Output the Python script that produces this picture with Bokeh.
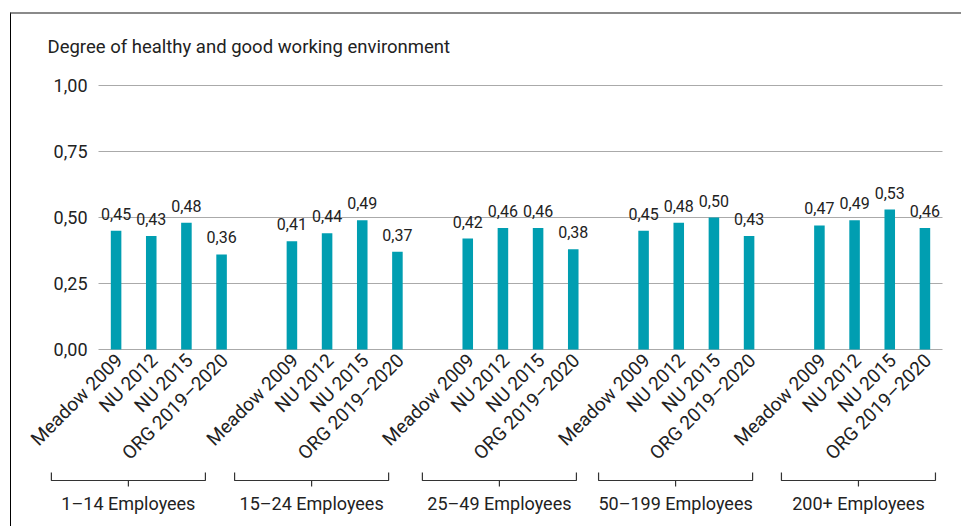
from math import pi
from bokeh.plotting import figure
from bokeh.models import Range1d
from bokeh.core.properties import value
from bokeh.embed import file_html
from bokeh.resources import INLINE

# ---- data ----
groups = ["1–14 Employees", "15–24 Employees", "25–49 Employees",
          "50–199 Employees", "200+ Employees"]
surveys = ["Meadow 2009", "NU 2012", "NU 2015", "ORG 2019–2020"]
meadow_2009 = [0.45, 0.41, 0.42, 0.45, 0.47]
nu_2012 = [0.43, 0.44, 0.46, 0.48, 0.49]
nu_2015 = [0.48, 0.49, 0.46, 0.50, 0.53]
org_2019_2020 = [0.36, 0.37, 0.38, 0.43, 0.46]
y_ticks = [0, 0.25, 0.5, 0.75, 1.0]
y_tick_labels = ["0,00", "0,25", "0,50", "0,75", "1,00"]
title_text = "Degree of healthy and good working environment"

# ---- layout / style ----
FONT = "Roboto"
TXT = "#222222"
BAR = "#009EB1"
GRID = "#AAAAAA"
W, H = 951, 514
AREA_LEFT, AREA_RIGHT, AREA_TOP = 87, 20, 71   # pixel margins of the value area
PX_PER_UNIT = 264.0                            # pixels for y from 0 to 1
bracket_shift = [-1.15, -0.94, -0.60, -0.59, -0.39]
bracket_half = 2.19

series = [meadow_2009, nu_2012, nu_2015, org_2019_2020]
slots = len(surveys) + 1
xs, vals, names = [], [], []
for g in range(len(groups)):
    for i, s in enumerate(series):
        xs.append(g * slots + i)
        vals.append(s[g])
        names.append(surveys[i])
val_text = [f"{v:.2f}".replace(".", ",") for v in vals]
n_slots = len(groups) * slots - 1

px = 1 / PX_PER_UNIT
slot_px = (W - AREA_LEFT - AREA_RIGHT) / n_slots
x_lo, x_hi = -0.5, n_slots - 0.5
x_start = x_lo - AREA_LEFT / slot_px
x_end = x_hi + AREA_RIGHT / slot_px
y_top = 1.0 + AREA_TOP * px
y_bottom = 1.0 - (H - AREA_TOP) * px

p = figure(width=W, height=H, x_range=Range1d(x_start, x_end),
           y_range=Range1d(y_bottom, y_top), x_axis_location=None,
           y_axis_location=None, output_backend="svg", toolbar_location=None,
           min_border=0, margin=(12, 0, 0, 10))
p.styles = {"border-top": "2px solid #8a8a8a", "border-left": "1px solid #000000"}
p.outline_line_color = None
p.background_fill_color = "white"
p.xgrid.visible = False
p.ygrid.visible = False

# horizontal grid lines over the value area
p.segment(x0=[x_lo] * len(y_ticks), x1=[x_hi] * len(y_ticks), y0=y_ticks, y1=y_ticks,
          line_color=GRID, line_width=1)

# title
p.text(x=[x_start], y=[1.0 + (AREA_TOP - 32) * px], text=[title_text],
       x_offset=36, text_align="left", text_baseline="middle",
       text_font=value(FONT), text_font_size="18.5px", text_color=TXT)

# y tick labels
p.text(x=[x_lo] * len(y_ticks), y=y_ticks, text=y_tick_labels, x_offset=-11,
       text_align="right", text_baseline="middle",
       text_font=value(FONT), text_font_size="18px", text_color=TXT)

p.vbar(x=xs, top=vals, bottom=0, width=0.3, fill_color=BAR, line_color=None)
p.text(x=xs, y=vals, text=val_text, text_align="center", text_baseline="alphabetic",
       y_offset=-17, text_font=value(FONT), text_font_size="16px", text_color=TXT)

# category labels, rotated 45 degrees, ending at the bar
p.text(x=xs, y=[0] * len(xs), text=names, angle=pi / 4, text_align="right",
       text_baseline="middle", x_offset=3, y_offset=7.5,
       text_font=value(FONT), text_font_size="19px", text_color=TXT)

# brackets and group labels
bx, by, gx, gy = [], [], [], []
yb = -131 * px
yt = yb + 8 * px
yd = yb - 6 * px
for g, name in enumerate(groups):
    c = g * slots + (len(surveys) - 1) / 2 + bracket_shift[g]
    l, r = c - bracket_half, c + bracket_half
    bx.append([l, l, r, r])
    by.append([yt, yb, yb, yt])
    bx.append([c, c])
    by.append([yb, yd])
    gx.append(c)
    gy.append(-154 * px)
p.multi_line(xs=bx, ys=by, line_color="#333333", line_width=1.2)
p.text(x=gx, y=gy, text=groups, text_align="center", text_baseline="middle",
       text_font=value(FONT), text_font_size="18px", text_color=TXT)

open("out.html", "w").write(file_html(p, INLINE))
